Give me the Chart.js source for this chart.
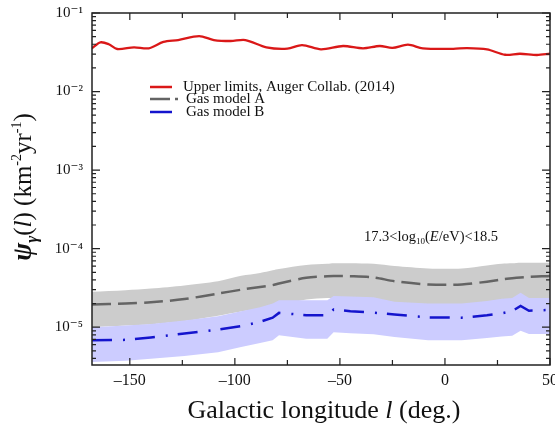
<!DOCTYPE html>
<html>
<head>
<meta charset="utf-8">
<script src="https://cdn.jsdelivr.net/npm/chart.js@4.4.1/dist/chart.umd.min.js"></script>
<style>
  html, body { margin: 0; padding: 0; background: #fff; }
  #wrap { width: 555px; height: 429px; }
</style>
</head>
<body>
<div id="wrap"><canvas id="grafico" width="555" height="429"></canvas></div>
<script>
// limites superiores (Auger 2014)
const redLon = [-168, -164, -160, -156, -148, -141, -134, -127, -117, -110, -102, -95, -85, -75, -68, -59, -48.5, -39, -31, -25, -17.6, -10.5, 4, 10.5, 20, 28.6, 35.7, 43.8, 50];
const redVal = [0.0355, 0.0423, 0.040, 0.0348, 0.0366, 0.0355, 0.0428, 0.0453, 0.0509, 0.0453, 0.044, 0.0453, 0.0366, 0.0352, 0.0391, 0.0345, 0.038, 0.0355, 0.038, 0.036, 0.0395, 0.0355, 0.035, 0.0357, 0.0344, 0.0294, 0.0303, 0.0292, 0.0303];

// modelos de gas
const modelLon = [-168, -152, -140, -124, -108, -97, -88, -82, -79, -66, -56, -53, -45, -34, -24, -8, 8, 20, 27, 32, 36, 40, 46, 50];
const gasA    = [1.95e-5, 2.0e-5, 2.07e-5, 2.28e-5, 2.68e-5, 3.0e-5, 3.25e-5, 3.43e-5, 3.6e-5, 4.25e-5, 4.45e-5, 4.47e-5, 4.45e-5, 4.3e-5, 3.85e-5, 3.5e-5, 3.5e-5, 3.8e-5, 4.05e-5, 4.2e-5, 4.3e-5, 4.37e-5, 4.45e-5, 4.47e-5];
const gasAUp  = [2.82e-5, 2.95e-5, 3.1e-5, 3.4e-5, 3.85e-5, 4.5e-5, 4.9e-5, 5.3e-5, 5.5e-5, 6.17e-5, 6.4e-5, 6.5e-5, 6.5e-5, 6.4e-5, 6.0e-5, 5.6e-5, 5.6e-5, 6.1e-5, 6.4e-5, 6.5e-5, 6.6e-5, 6.6e-5, 6.6e-5, 6.6e-5];
const gasALow = [1.0e-5, 1.05e-5, 1.09e-5, 1.2e-5, 1.4e-5, 1.58e-5, 1.7e-5, 1.8e-5, 1.9e-5, 2.25e-5, 2.35e-5, 2.35e-5, 2.35e-5, 2.25e-5, 2.05e-5, 1.85e-5, 1.85e-5, 2.0e-5, 2.15e-5, 2.2e-5, 2.25e-5, 2.3e-5, 2.35e-5, 2.35e-5];
const gasB    = [6.8e-6, 6.9e-6, 7.4e-6, 8.3e-6, 9.3e-6, 1.03e-5, 1.17e-5, 1.32e-5, 1.52e-5, 1.42e-5, 1.42e-5, 1.68e-5, 1.6e-5, 1.53e-5, 1.45e-5, 1.33e-5, 1.32e-5, 1.42e-5, 1.5e-5, 1.6e-5, 1.86e-5, 1.62e-5, 1.64e-5, 1.66e-5];
const gasBUp  = [1.0e-5, 1.05e-5, 1.1e-5, 1.22e-5, 1.38e-5, 1.6e-5, 1.8e-5, 2.0e-5, 2.2e-5, 2.2e-5, 2.2e-5, 2.5e-5, 2.45e-5, 2.4e-5, 2.1e-5, 2.0e-5, 2.0e-5, 2.15e-5, 2.3e-5, 2.35e-5, 2.75e-5, 2.35e-5, 2.35e-5, 2.35e-5];
const gasBLow = [3.6e-6, 3.75e-6, 3.95e-6, 4.3e-6, 4.8e-6, 5.6e-6, 6.3e-6, 6.8e-6, 7.9e-6, 7.1e-6, 7.1e-6, 8.6e-6, 8.4e-6, 8.1e-6, 7.5e-6, 6.8e-6, 6.8e-6, 7.3e-6, 7.6e-6, 7.8e-6, 9.0e-6, 8.2e-6, 8.2e-6, 8.2e-6];

// eixos
const xTicks = [-150, -100, -50, 0, 50];
const yTicks = [1e-5, 1e-4, 1e-3, 1e-2, 1e-1];
const yTickLabels = ['10\u207B\u2075', '10\u207B\u2074', '10\u207B\u00B3', '10\u207B\u00B2', '10\u207B\u00B9'];
const legendLabels = ['Upper limits, Auger Collab. (2014)', 'Gas model A', 'Gas model B'];

const serif = '"Liberation Serif", "DejaVu Serif", serif';

function pares(xs, ys) {
    return xs.map((x, i) => ({ x: x, y: ys[i] }));
}

const corVermelho = 'rgb(218, 24, 24)';
const corCinza = 'rgb(100, 100, 100)';
const corAzul = 'rgb(20, 20, 205)';

const dados = {
    datasets: [
        { label: legendLabels[0], data: pares(redLon, redVal), borderColor: corVermelho, borderWidth: 2.3, tension: 0.3 },
        { label: legendLabels[1], data: pares(modelLon, gasA), borderColor: corCinza, borderWidth: 2.5, borderDash: [19, 7], tension: 0.3 },
        { label: legendLabels[2], data: pares(modelLon, gasB), borderColor: corAzul, borderWidth: 2.5, borderDash: [20, 11, 2, 10], tension: 0 },
        { label: 'B up', data: pares(modelLon, gasBUp), borderWidth: 0, backgroundColor: 'rgb(204, 204, 255)', fill: '+1', tension: 0 },
        { label: 'B low', data: pares(modelLon, gasBLow), borderWidth: 0, tension: 0 },
        { label: 'A up', data: pares(modelLon, gasAUp), borderWidth: 0, backgroundColor: 'rgb(204, 204, 204)', fill: '+1', tension: 0.3 },
        { label: 'A low', data: pares(modelLon, gasALow), borderWidth: 0, tension: 0.3 }
    ]
};

// desenha texto com trechos de fontes diferentes
function textoMisto(ctx, partes, x, y) {
    let total = 0;
    partes.forEach(p => { ctx.font = p.font; total += ctx.measureText(p.t).width; });
    let cx = x - total / 2;
    ctx.textAlign = 'left';
    ctx.textBaseline = 'alphabetic';
    partes.forEach(p => {
        ctx.font = p.font;
        ctx.fillText(p.t, cx, y + (p.dy || 0));
        cx += ctx.measureText(p.t).width;
    });
}

const enfeites = {
    id: 'enfeites',
    afterDraw(chart) {
        const ctx = chart.ctx;
        const a = chart.chartArea;
        const sx = chart.scales.x, sy = chart.scales.y;
        ctx.save();
        ctx.strokeStyle = '#222';
        ctx.lineWidth = 1.5;
        ctx.strokeRect(a.left, a.top, a.right - a.left, a.bottom - a.top);

        // ticks para dentro
        ctx.lineWidth = 1.2;
        ctx.beginPath();
        for (let v = -150; v <= 50; v += 25) {
            const px = sx.getPixelForValue(v);
            const len = v % 50 === 0 ? 7 : 5;
            ctx.moveTo(px, a.bottom); ctx.lineTo(px, a.bottom - len);
            ctx.moveTo(px, a.top); ctx.lineTo(px, a.top + len);
        }
        for (let e = -6; e <= -1; e++) {
            for (let m = 1; m <= 9; m++) {
                const v = m * Math.pow(10, e);
                if (v < sy.min || v > sy.max) continue;
                const py = sy.getPixelForValue(v);
                const len = m === 1 ? 8 : 4;
                ctx.moveTo(a.left, py); ctx.lineTo(a.left + len, py);
                ctx.moveTo(a.right, py); ctx.lineTo(a.right - len, py);
            }
        }
        ctx.stroke();

        // legenda
        const ds = chart.data.datasets;
        const ly = [87, 99, 112];
        const lx = [183, 186, 186];
        for (let i = 0; i < 3; i++) {
            ctx.beginPath();
            ctx.strokeStyle = ds[i].borderColor;
            ctx.lineWidth = 2.5;
            ctx.moveTo(150, ly[i]);
            ctx.lineTo(i === 1 ? 170 : 172, ly[i]);
            if (i === 1) { ctx.moveTo(175, ly[i]); ctx.lineTo(178, ly[i]); }
            ctx.stroke();
            ctx.fillStyle = '#111';
            ctx.font = '15px ' + serif;
            ctx.textAlign = 'left';
            ctx.textBaseline = 'middle';
            ctx.fillText(legendLabels[i], lx[i], ly[i]);
        }

        // faixa de energia
        ctx.fillStyle = '#111';
        const f = '14.5px ' + serif;
        textoMisto(ctx, [
            { t: '17.3<log', font: f },
            { t: '10', font: '9px ' + serif, dy: 3 },
            { t: '(', font: f },
            { t: 'E', font: 'italic 14.5px ' + serif },
            { t: '/eV)<18.5', font: f }
        ], 431, 241);

        // titulo eixo x
        textoMisto(ctx, [
            { t: 'Galactic longitude ', font: '26px ' + serif },
            { t: 'l', font: 'italic 26px ' + serif },
            { t: ' (deg.)', font: '26px ' + serif }
        ], 324, 418);

        // titulo eixo y
        ctx.translate(31, 187);
        ctx.rotate(-Math.PI / 2);
        textoMisto(ctx, [
            { t: '\u03C8', font: 'bold italic 27px ' + serif },
            { t: '\u03B3', font: 'bold italic 17px ' + serif, dy: 6 },
            { t: '(', font: '25px ' + serif },
            { t: 'l', font: 'italic 25px ' + serif },
            { t: ') (km', font: '25px ' + serif },
            { t: '-2', font: '14px ' + serif, dy: -10 },
            { t: 'yr', font: '25px ' + serif },
            { t: '-1', font: '14px ' + serif, dy: -10 },
            { t: ')', font: '25px ' + serif }
        ], 0, 0);
        ctx.restore();
    }
};

const config = {
    type: 'line',
    data: dados,
    options: {
        responsive: false,
        animation: false,
        layout: { padding: { top: 13, right: 5, left: 0, bottom: 0 } },
        elements: { point: { radius: 0 } },
        plugins: {
            legend: { display: false },
            tooltip: { enabled: false },
            filler: { drawTime: 'beforeDatasetsDraw' }
        },
        scales: {
            x: {
                type: 'linear',
                min: -168,
                max: 50,
                grid: { display: false, drawTicks: false },
                border: { display: false },
                ticks: {
                    padding: 6,
                    color: '#111',
                    font: { family: serif, size: 16 },
                    maxRotation: 0,
                    callback: (v) => (v < 0 ? '\u2013' + Math.abs(v) : String(v))
                },
                afterBuildTicks: (s) => { s.ticks = xTicks.map(v => ({ value: v })); },
                afterFit: (s) => { s.height = 64; s.paddingLeft = 0; s.paddingRight = 0; }
            },
            y: {
                type: 'logarithmic',
                min: 3.3e-6,
                max: 0.1,
                grid: { display: false, drawTicks: false },
                border: { display: false },
                ticks: {
                    padding: 9,
                    color: '#111',
                    font: { family: serif, size: 15 },
                    callback: (v) => {
                        const i = yTicks.findIndex(t => Math.abs(t - v) / t < 1e-6);
                        return i >= 0 ? yTickLabels[i] : '';
                    }
                },
                afterBuildTicks: (s) => { s.ticks = yTicks.map(v => ({ value: v })); },
                afterFit: (s) => { s.width = 92; s.paddingTop = 0; s.paddingBottom = 0; }
            }
        }
    },
    plugins: [enfeites]
};

const ctx = document.getElementById('grafico').getContext('2d');
let meuGrafico = new Chart(ctx, config);
</script>
</body>
</html>
